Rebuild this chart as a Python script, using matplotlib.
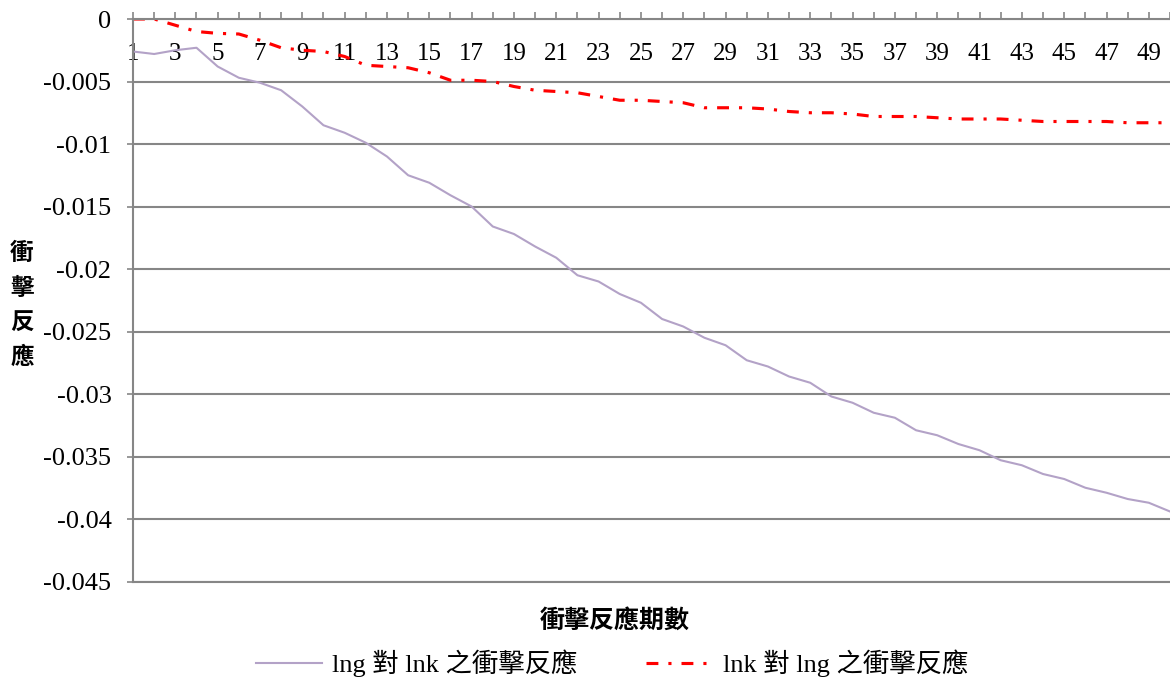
# -*- coding: utf-8 -*-
import matplotlib
matplotlib.use('Agg')
import matplotlib.pyplot as plt

# 衝擊反應期數
periods = list(range(1, 51))

# lng 對 lnk 之衝擊反應
lng_on_lnk = [-0.0026, -0.0028, -0.0025, -0.0023, -0.0038, -0.0047, -0.0051, -0.0057, -0.0070, -0.0085,
              -0.0091, -0.0099, -0.0110, -0.0125, -0.0131, -0.0141, -0.0150, -0.0166, -0.0172, -0.0182,
              -0.0191, -0.0205, -0.0210, -0.0220, -0.0227, -0.0240, -0.0246, -0.0255, -0.0261, -0.0273,
              -0.0278, -0.0286, -0.0291, -0.0302, -0.0307, -0.0315, -0.0319, -0.0329, -0.0333, -0.0340,
              -0.0345, -0.0353, -0.0357, -0.0364, -0.0368, -0.0375, -0.0379, -0.0384, -0.0387, -0.0394]

# lnk 對 lng 之衝擊反應
lnk_on_lng = [0.0, 0.0, -0.0005, -0.0010, -0.00115, -0.0012, -0.0017, -0.0023, -0.0025, -0.0026,
              -0.0030, -0.0037, -0.0038, -0.0039, -0.0043, -0.0049, -0.0049, -0.0050, -0.0054, -0.0057,
              -0.0058, -0.0059, -0.0062, -0.0065, -0.0065, -0.0066, -0.0067, -0.0071, -0.0071, -0.0071,
              -0.0072, -0.0074, -0.0075, -0.0075, -0.0076, -0.0078, -0.0078, -0.0078, -0.0079, -0.0080,
              -0.0080, -0.0080, -0.0081, -0.0082, -0.0082, -0.0082, -0.0082, -0.0083, -0.0083, -0.0083]

y_ticks = [0, -0.005, -0.01, -0.015, -0.02, -0.025, -0.03, -0.035, -0.04, -0.045]
y_tick_labels = ['0', '-0.005', '-0.01', '-0.015', '-0.02', '-0.025', '-0.03', '-0.035', '-0.04', '-0.045']
x_tick_labels = [str(p) if p % 2 == 1 else '' for p in periods]

series_names = ['lng 對 lnk 之衝擊反應', 'lnk 對 lng 之衝擊反應']

serif = ['Liberation Serif', 'Noto Sans CJK TC']
cjk_bold = ['Noto Sans CJK TC', 'DejaVu Sans']
grid_gray = '#868686'

fig = plt.figure(figsize=(11.7, 6.81), dpi=100)
ax = fig.add_axes([133 / 1170, 1 - 581.5 / 681, (1170 - 133) / 1170, (581.5 - 19) / 681])

l1, = ax.plot(periods, lng_on_lnk, color='#b3a2c7', lw=1.5, label=series_names[0])
l2, = ax.plot(periods, lnk_on_lng, color='#ff0000', lw=2.25, label=series_names[1])
l2.set_dashes([3.8, 3.2, 1.0, 3.2])

ax.set_xlim(1, 50)
ax.set_ylim(-0.045, 0)

ax.set_yticks(y_ticks)
ax.set_yticklabels(y_tick_labels, family=serif, fontsize=19)
ax.set_xticks(periods)
ax.set_xticklabels(x_tick_labels, family=serif, fontsize=18)

ax.tick_params(axis='x', top=True, bottom=False, labeltop=True, labelbottom=False,
               direction='out', length=5, width=1.2, color=grid_gray, pad=-38)
ax.tick_params(axis='y', direction='out', length=4.5, width=1.2, color=grid_gray, pad=11)

ax.grid(axis='y', color=grid_gray, lw=1.5)
ax.set_axisbelow(True)
for side in ['left', 'top', 'bottom']:
    ax.spines[side].set_color(grid_gray)
    ax.spines[side].set_linewidth(1.5)
ax.spines['right'].set_visible(False)

fig.text(22 / 1170, 1 - 305 / 681, '衝\n擊\n反\n應', family=cjk_bold, fontweight='bold',
         fontsize=17, ha='center', va='center', linespacing=1.55)
fig.text(615 / 1170, 1 - 621 / 681, '衝擊反應期數', family=cjk_bold, fontweight='bold',
         fontsize=18, ha='center', va='center')

fig.legend(handles=[l1, l2], loc='center', bbox_to_anchor=(612 / 1170, 1 - 663 / 681),
           ncol=2, frameon=False, prop={'family': serif, 'size': 19},
           handlelength=2.5, columnspacing=2.6, handletextpad=0.4)

fig.savefig('out.png', dpi=100)
